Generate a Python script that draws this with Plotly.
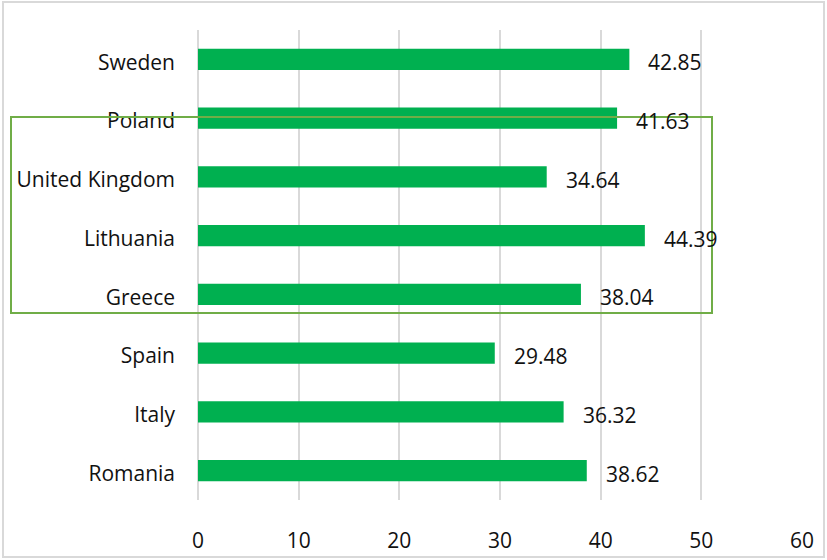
import plotly.graph_objects as go

countries = ["Sweden", "Poland", "United Kingdom", "Lithuania", "Greece", "Spain", "Italy", "Romania"]
values = [42.85, 41.63, 34.64, 44.39, 38.04, 29.48, 36.32, 38.62]
x_ticks = [0, 10, 20, 30, 40, 50, 60]

FONT = "Open Sans"
SIZE = 21
fig = go.Figure()
fig.add_trace(go.Bar(
    y=countries, x=values, orientation="h",
    marker=dict(color="#00B050", line=dict(width=0)),
    width=0.36, hoverinfo="x+y",
))

for c, v in zip(countries, values):
    fig.add_annotation(x=v, y=c, text=f"{v:.2f}", showarrow=False,
                       xanchor="left", xshift=17, yshift=-3,
                       font=dict(family=FONT, size=SIZE, color="#111111"))

fig.update_layout(
    width=827, height=560,
    margin=dict(l=198, r=25, t=30, b=60),
    paper_bgcolor="white", plot_bgcolor="white",
    showlegend=False,
    font=dict(family=FONT, size=SIZE, color="#111111"),
    xaxis=dict(range=[0, 60], tickvals=x_ticks, showgrid=True, gridcolor="#D9D9D9",
               gridwidth=2, zeroline=True, zerolinecolor="#D9D9D9", zerolinewidth=2,
               showline=False, ticks="", ticklabelstandoff=26, fixedrange=True,
               automargin=False),
    yaxis=dict(autorange="reversed", categoryorder="array", categoryarray=countries,
               showgrid=False, showline=False, ticks="", ticklabelstandoff=22,
               ticklabelshift=-3, automargin=False),
    shapes=[
        dict(type="rect", xref="paper", yref="paper",
             x0=(3 - 198) / 604, x1=(824 - 198) / 604,
             y0=(500 - 557) / 470, y1=(500 - 2) / 470,
             line=dict(color="#D9D9D9", width=2), layer="below"),
        dict(type="rect", xref="paper", yref="paper",
             x0=(11 - 198) / 604, x1=(712 - 198) / 604,
             y0=(500 - 313) / 470, y1=(500 - 117) / 470,
             line=dict(color="#70AD47", width=2), layer="above"),
    ],
)

fig.write_html("out.html")
